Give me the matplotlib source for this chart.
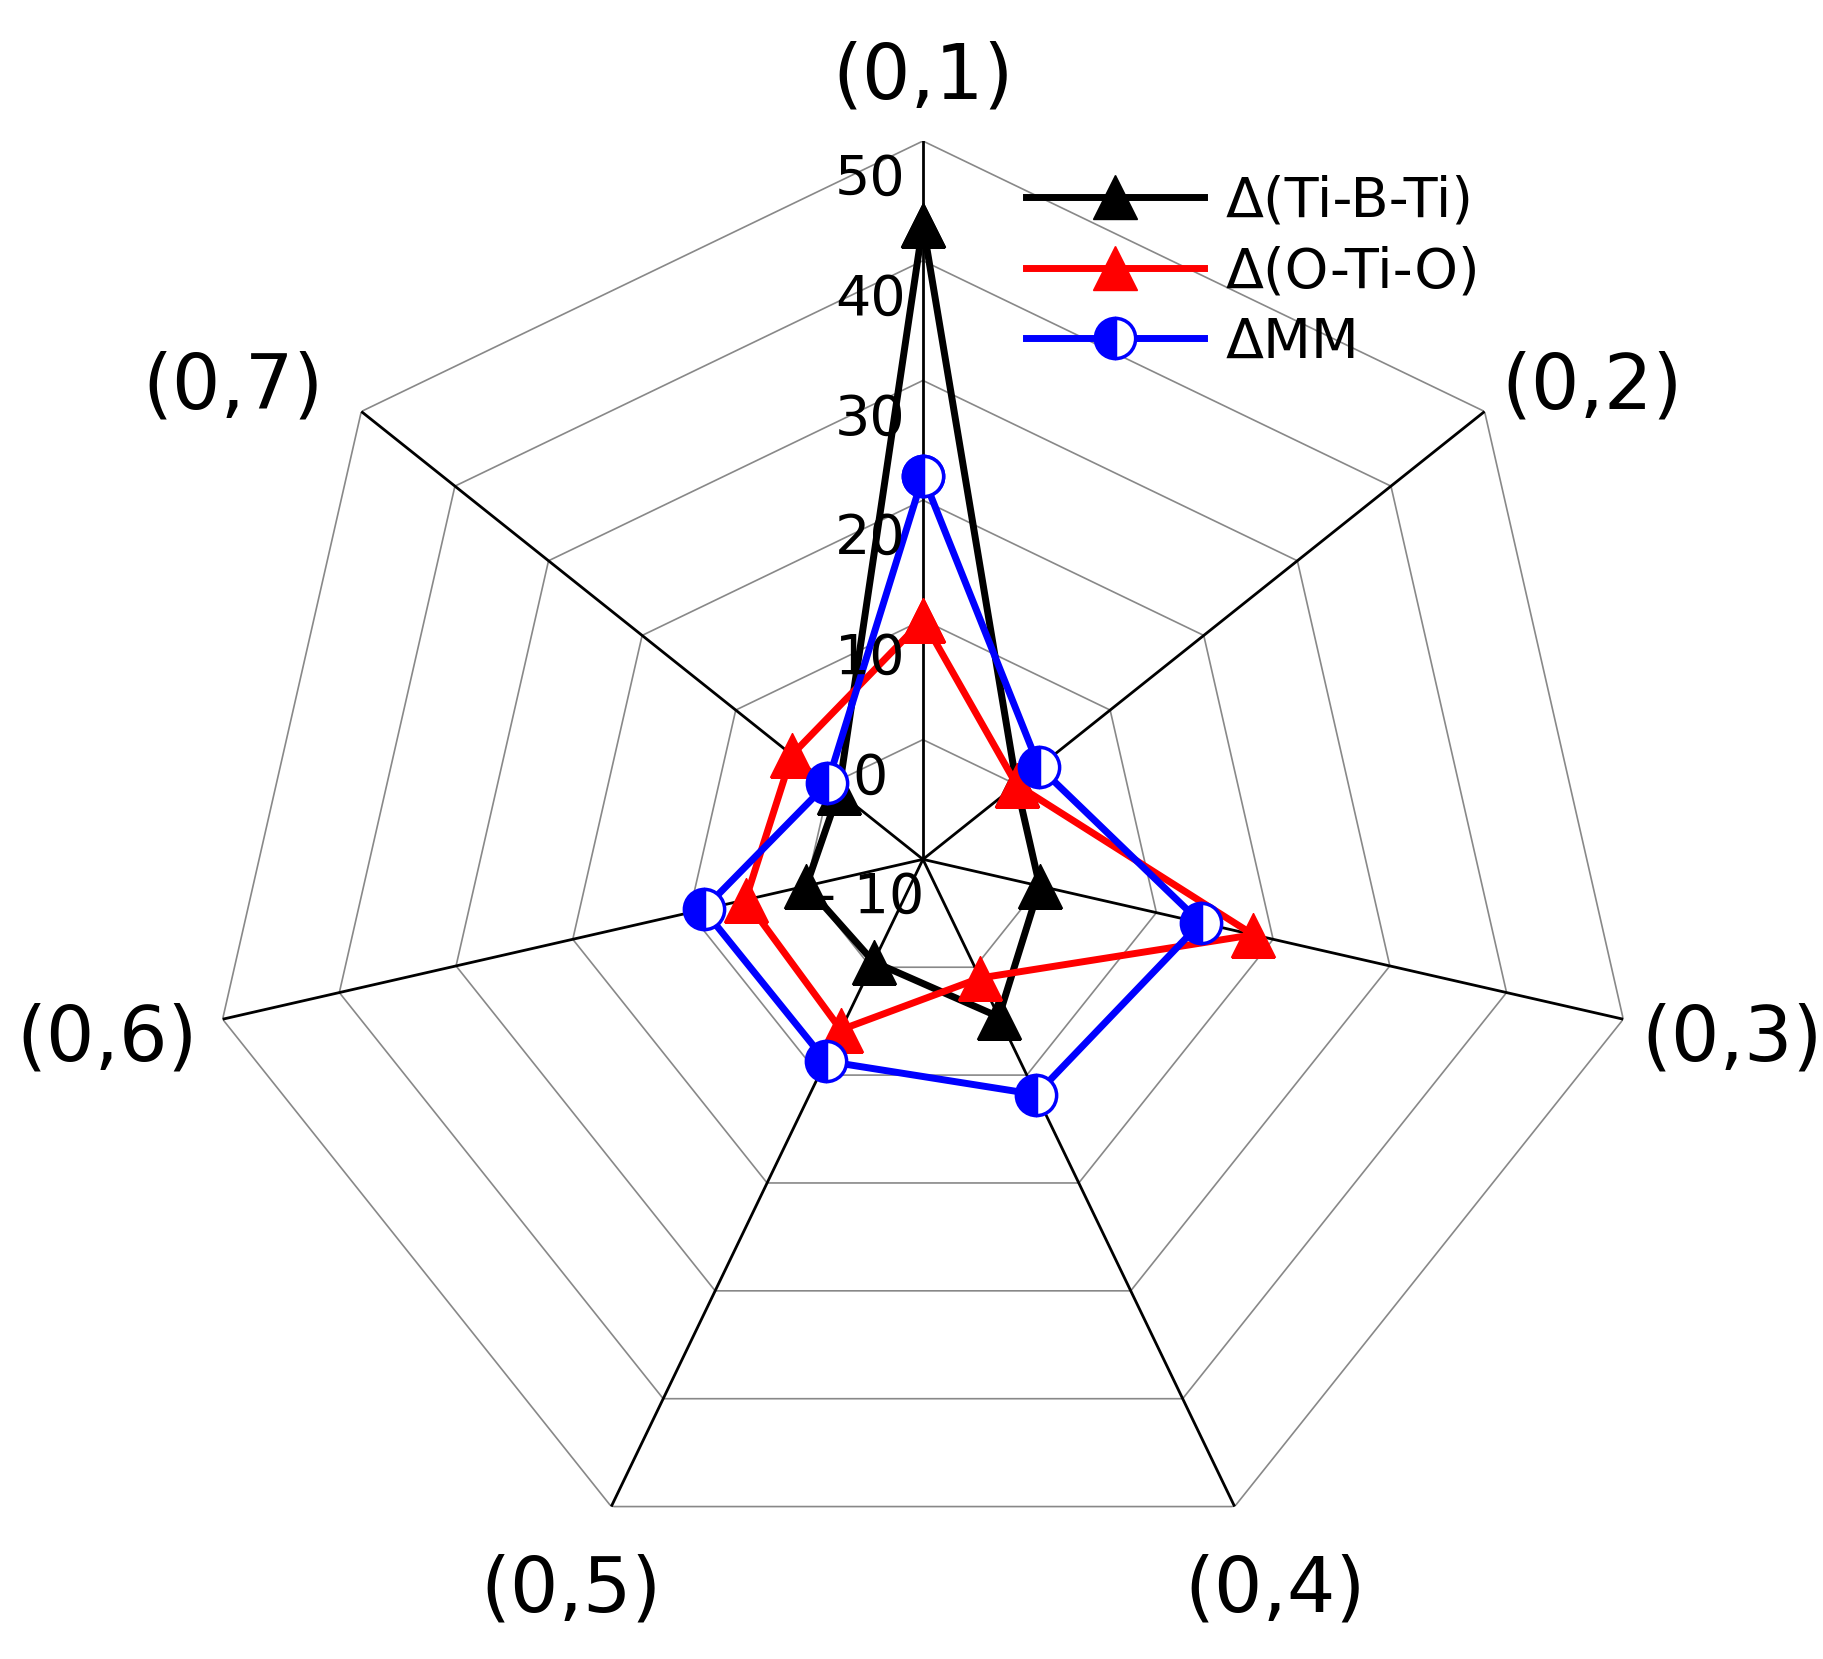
import numpy as np
import matplotlib.pyplot as plt

categories = ['(0,1)', '(0,2)', '(0,3)', '(0,4)', '(0,5)', '(0,6)', '(0,7)']
ti_b_ti = [43, 0, 0, 4.6, -0.5, 0, -1]
o_ti_o = [10, 0, 18.3, 1, 5.8, 5.2, 4]
delta_mm = [22, 2.4, 13.8, 11.8, 8.7, 8.8, 0.2]
levels = [-10, 0, 10, 20, 30, 40, 50]

n = len(categories)
ang = np.linspace(0, 2 * np.pi, n, endpoint=False)
ang_c = np.append(ang, ang[0])

fig = plt.figure(figsize=(18.24, 16.59), dpi=100)
ax = fig.add_axes([0.112, 0.049, 0.788, 0.866], projection='polar')
ax.set_theta_offset(np.pi / 2)
ax.set_theta_direction(-1)
ax.set_rlim(-10, 50)
ax.grid(False)
ax.spines['polar'].set_visible(False)
ax.set_xticks([])
ax.set_yticks([])

# polygon rings and spokes
for lv in levels[1:]:
    ax.plot(ang_c, [lv] * (n + 1), color='#888888', lw=1.2, zorder=1)
for a in ang:
    ax.plot([a, a], [-10, 50], color='black', lw=2, zorder=2)

def close(v):
    return list(v) + [v[0]]

ax.plot(ang_c, close(ti_b_ti), color='black', lw=5, marker='^', ms=31,
        label='Δ(Ti-B-Ti)', zorder=5)
ax.plot(ang_c, close(o_ti_o), color='red', lw=5, marker='^', ms=31,
        label='Δ(O-Ti-O)', zorder=6)
ax.plot(ang_c, close(delta_mm), color='blue', lw=5, marker='o', ms=29,
        fillstyle='left', markerfacecolor='blue', markerfacecoloralt='white',
        markeredgecolor='blue', markeredgewidth=2.5, label='ΔMM', zorder=7)

# radial tick labels
for lv in levels:
    txt = '- 10' if lv < 0 else str(lv)
    ax.annotate(txt, xy=(0, lv), xytext=(-38, -28), textcoords='offset points',
                ha='center', va='center', fontsize=40, zorder=8)

# category labels (small nudges in points)
label_r = [55.3, 57.8, 57.8, 57.8, 57.8, 57.8, 57.8]
label_off = [(0, 0), (25, -25), (13, 0), (0, 0), (0, 0), (-18, 0), (-40, -25)]
for a, c, r, off in zip(ang, categories, label_r, label_off):
    ax.annotate(c, xy=(a, r), xytext=off, textcoords='offset points',
                ha='center', va='center', fontsize=55, annotation_clip=False)

leg = fig.legend(loc='upper left', bbox_to_anchor=(0.535, 0.925), fontsize=40,
                 frameon=False, handlelength=3.2, labelspacing=0.3,
                 handletextpad=0.4)

fig.savefig('out.png', dpi=100)
